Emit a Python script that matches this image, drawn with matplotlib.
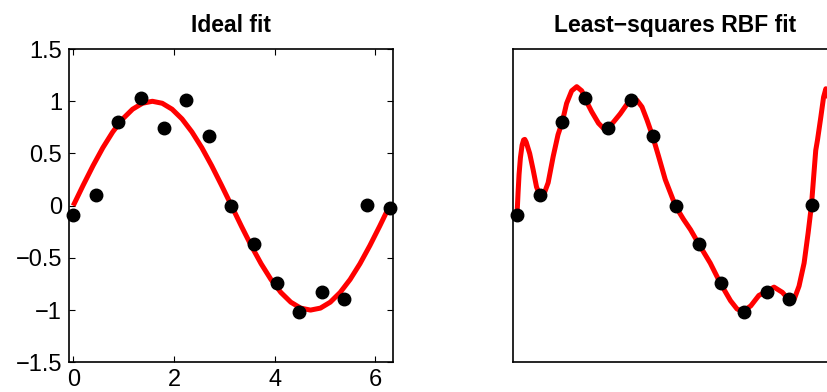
import matplotlib.pyplot as plt

plt.rcParams["font.family"] = ["Liberation Sans", "DejaVu Sans"]

# noisy samples (15 points on [0, 2*pi])
pts_x = [0.0, 0.449, 0.898, 1.346, 1.795, 2.244, 2.693, 3.142,
         3.590, 4.039, 4.488, 4.937, 5.386, 5.834, 6.283]
pts_y = [-0.086, 0.10, 0.80, 1.035, 0.746, 1.016, 0.667, -0.006,
         -0.365, -0.743, -1.016, -0.822, -0.895, 0.003, -0.022]

# ideal curve
ideal_x = [0.0, 0.196, 0.393, 0.589, 0.785, 0.982, 1.178, 1.374, 1.571,
           1.767, 1.963, 2.160, 2.356, 2.553, 2.749, 2.945, 3.142,
           3.338, 3.534, 3.731, 3.927, 4.123, 4.320, 4.516, 4.712,
           4.909, 5.105, 5.301, 5.498, 5.694, 5.890, 6.087, 6.283]
ideal_y = [0.0, 0.195, 0.383, 0.556, 0.707, 0.831, 0.924, 0.981, 1.0,
           0.981, 0.924, 0.831, 0.707, 0.556, 0.383, 0.195, 0.0,
           -0.195, -0.383, -0.556, -0.707, -0.831, -0.924, -0.981, -1.0,
           -0.981, -0.924, -0.831, -0.707, -0.556, -0.383, -0.195, 0.0]

# least-squares RBF curve
rbf_x = [0.0, 0.02, 0.04, 0.067, 0.10, 0.13, 0.153, 0.18, 0.25, 0.32, 0.385,
         0.449, 0.516, 0.615, 0.714, 0.81, 0.893, 0.98, 1.08, 1.18,
         1.28, 1.343, 1.476, 1.61, 1.71, 1.786, 1.905, 2.04, 2.236,
         2.37, 2.47, 2.57, 2.68, 2.80, 2.93, 3.135, 3.29, 3.43, 3.59,
         3.82, 4.02, 4.22, 4.35, 4.47, 4.62, 4.78, 4.92, 5.08, 5.245,
         5.365, 5.48, 5.575, 5.675, 5.755, 5.82, 5.905, 5.94, 6.006,
         6.06, 6.105, 6.15, 6.20, 6.245, 6.283]
rbf_y = [-0.086, 0.12, 0.30, 0.46, 0.58, 0.63, 0.635, 0.61, 0.50, 0.34, 0.18,
         0.10, 0.09, 0.22, 0.47, 0.68, 0.80, 0.98, 1.10, 1.14,
         1.10, 1.026, 0.90, 0.79, 0.74, 0.74, 0.80, 0.88, 1.016,
         1.01, 0.946, 0.82, 0.667, 0.47, 0.25, -0.006, -0.13, -0.23, -0.365,
         -0.55, -0.743, -0.91, -0.99, -1.01, -0.96, -0.86, -0.825, -0.78, -0.83,
         -0.895, -0.895, -0.77, -0.55, -0.26, 0.003, 0.53, 0.63, 0.85,
         1.04, 1.12, 1.05, 0.75, 0.35, -0.022]

fig = plt.figure(figsize=(8.27, 3.92), dpi=100)
ax1 = fig.add_axes([0.0834, 0.0758, 0.3918, 0.799])
ax2 = fig.add_axes([0.620, 0.0758, 0.3936, 0.799])

for ax in (ax1, ax2):
    ax.set_xlim(-0.085, 6.35)
    ax.set_ylim(-1.5, 1.5)
    for s in ax.spines.values():
        s.set_linewidth(1.2)

ax1.plot(ideal_x, ideal_y, color="red", linewidth=3.6, solid_capstyle="butt",
         solid_joinstyle="round", zorder=2)
ax1.plot(pts_x, pts_y, "o", color="black", markersize=9, zorder=3, clip_on=False)
ax1.set_xticks([0, 2, 4, 6])
ax1.set_yticks([-1.5, -1, -0.5, 0, 0.5, 1, 1.5])
ax1.set_yticklabels(["\u22121.5", "\u22121", "\u22120.5", "0", "0.5", "1", "1.5"])
ax1.tick_params(direction="in", top=True, right=True, length=4, width=0.8,
                labelsize=17, pad=5)
ax1.set_title("Ideal fit", fontsize=16.5, fontweight="bold", pad=12)

ax2.plot(rbf_x, rbf_y, color="red", linewidth=3.6, solid_joinstyle="round", zorder=2)
ax2.plot(pts_x, pts_y, "o", color="black", markersize=9, zorder=3, clip_on=False)
ax2.set_xticks([])
ax2.set_yticks([])
ax2.set_title("Least\u2212squares RBF fit", fontsize=16.5, fontweight="bold", pad=12)

plt.savefig("out.png", dpi=100)
